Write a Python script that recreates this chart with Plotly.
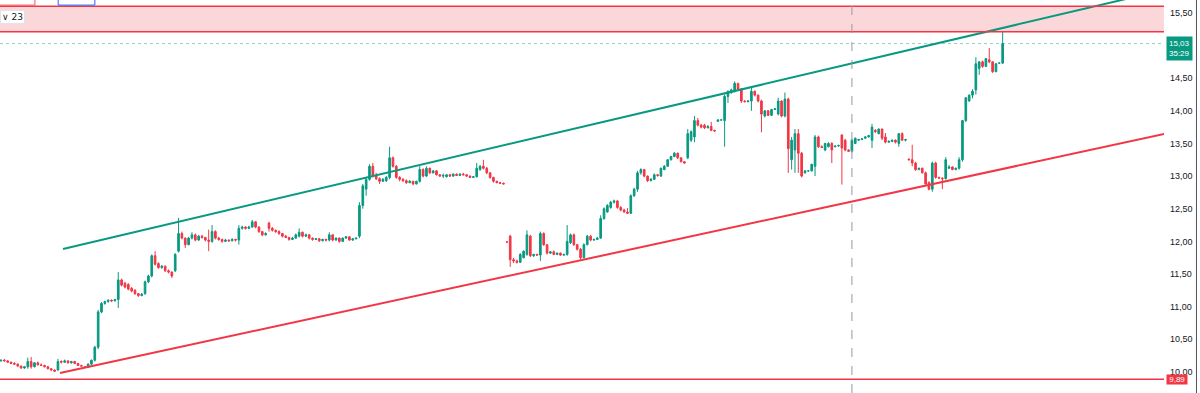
import plotly.graph_objects as go

# ---- candle data (index, OHLC) ----
opens = [10.17,10.18,10.17,10.15,10.13,10.12,10.09,10.06,10.08,10.16,10.08,10.14,10.11,10.10,10.08,10.05,10.03,10.03,10.16,10.15,
 10.17,10.14,10.16,10.13,10.10,10.08,10.07,10.12,10.18,10.38,10.92,11.05,11.08,11.10,11.09,11.11,11.41,11.36,11.34,11.28,
 11.25,11.20,11.17,11.20,11.38,11.47,11.78,11.66,11.60,11.62,11.55,11.53,11.55,11.85,12.12,12.05,11.95,12.05,12.10,12.02,
 12.08,12.06,12.02,12.00,12.15,12.05,12.03,12.00,12.02,12.01,12.03,12.02,12.20,12.22,12.20,12.22,12.30,12.22,12.15,12.10,
 12.28,12.20,12.17,12.15,12.12,12.08,12.06,12.03,12.05,12.08,12.14,12.08,12.10,12.05,12.03,12.04,12.01,12.03,12.02,12.10,
 12.02,12.05,12.00,12.05,12.07,12.02,12.04,12.08,12.55,12.80,12.95,13.15,13.00,12.96,12.92,12.93,12.98,13.28,13.15,12.98,
 12.95,12.93,12.90,12.92,12.88,12.92,13.10,13.00,13.12,13.05,13.08,13.02,13.00,12.99,13.02,13.00,13.03,13.01,13.03,13.02,
 13.00,12.98,12.99,13.10,13.15,13.12,13.05,12.98,12.92,12.90,12.89,11.99,12.08,11.72,11.70,11.68,11.75,11.80,12.08,11.78,
 11.80,11.79,12.12,11.95,11.82,11.84,11.80,11.82,11.79,11.80,11.98,12.10,11.95,11.88,11.75,11.95,12.08,12.02,12.03,12.05,
 12.35,12.45,12.52,12.60,12.62,12.52,12.48,12.45,12.43,12.70,12.80,13.05,13.10,13.00,12.93,12.95,13.02,13.00,13.10,13.15,
 13.25,13.30,13.35,13.28,13.22,13.28,13.55,13.60,13.85,13.78,13.78,13.74,13.76,13.70,13.84,13.86,13.85,14.22,14.28,14.30,
 14.42,14.33,14.15,14.14,14.15,14.30,14.24,14.15,13.92,14.00,13.93,14.02,13.95,14.15,13.92,14.18,13.25,13.40,13.65,13.35,
 13.05,13.08,13.08,13.15,13.60,13.45,13.40,13.45,13.50,13.45,13.46,13.63,13.55,13.40,13.38,13.50,13.55,13.56,13.58,13.60,
 13.55,13.70,13.65,13.72,13.60,13.52,13.53,13.55,13.50,13.65,13.55,13.26,13.25,13.20,13.10,13.12,13.05,12.90,12.80,13.20,
 12.98,12.97,12.96,13.12,13.14,13.10,13.12,13.25,13.85,14.15,14.24,14.32,14.65,14.75,14.68,14.78,14.75,14.60,14.73,14.73]
highs = [10.19,10.20,10.18,10.16,10.15,10.13,10.10,10.09,10.22,10.23,10.15,10.16,10.13,10.11,10.09,10.06,10.04,10.20,10.18,10.19,
 10.18,10.17,10.17,10.14,10.11,10.09,10.13,10.19,10.40,10.95,11.07,11.09,11.11,11.11,11.12,11.53,11.43,11.38,11.36,11.30,
 11.27,11.21,11.21,11.40,11.49,11.80,11.85,11.68,11.64,11.63,11.57,11.54,11.82,12.36,12.15,12.06,12.07,12.14,12.12,12.10,
 12.10,12.07,12.18,12.25,12.17,12.07,12.04,12.04,12.03,12.05,12.04,12.25,12.24,12.23,12.24,12.33,12.31,12.23,12.16,12.14,
 12.30,12.22,12.18,12.17,12.13,12.10,12.07,12.07,12.12,12.20,12.15,12.12,12.11,12.06,12.05,12.05,12.04,12.04,12.14,12.11,
 12.06,12.06,12.06,12.08,12.08,12.05,12.06,12.60,12.88,12.98,13.18,13.20,13.05,12.98,12.97,13.00,13.45,13.30,13.17,13.00,
 12.97,12.95,12.94,12.93,12.93,13.15,13.12,13.15,13.13,13.09,13.09,13.03,13.04,13.03,13.03,13.04,13.04,13.04,13.05,13.03,
 13.01,13.00,13.20,13.17,13.25,13.14,13.06,12.99,12.93,12.91,12.90,12.00,12.10,11.75,11.72,11.82,11.86,12.17,12.10,11.81,
 11.81,12.15,12.14,11.96,11.85,11.86,11.83,11.83,11.81,12.25,12.12,12.12,11.96,11.90,11.97,12.10,12.10,12.04,12.07,12.40,
 12.52,12.57,12.62,12.64,12.63,12.54,12.50,12.51,12.72,12.82,13.08,13.12,13.11,13.01,12.97,13.04,13.03,13.13,13.17,13.26,
 13.31,13.37,13.36,13.29,13.23,13.72,13.70,13.92,13.89,13.80,13.80,13.78,13.83,13.71,13.87,13.87,14.25,14.31,14.34,14.45,
 14.43,14.35,14.16,14.16,14.35,14.31,14.25,14.17,14.01,14.01,14.03,14.04,14.20,14.16,14.28,14.20,13.60,13.72,13.72,13.37,
 13.09,13.09,13.19,13.63,13.62,13.47,13.51,13.52,13.52,13.47,13.48,13.64,13.57,13.41,13.57,13.59,13.57,13.58,13.61,13.63,
 13.80,13.72,13.73,13.73,13.66,13.55,13.56,13.56,13.66,13.67,13.57,13.27,13.48,13.22,13.13,13.13,13.07,12.92,13.22,13.22,
 12.99,12.98,13.29,13.17,13.15,13.13,13.29,13.86,14.21,14.25,14.33,14.82,14.76,14.77,14.80,14.96,14.76,14.73,14.74,15.21]
lows = [10.16,10.16,10.14,10.12,10.11,10.08,10.05,10.05,10.05,10.05,10.07,10.10,10.09,10.07,10.04,10.02,10.00,10.02,10.13,10.14,
 10.13,10.13,10.12,10.09,10.08,10.06,10.06,10.11,10.16,10.35,10.90,11.03,11.06,11.07,11.08,10.98,11.31,11.28,11.25,11.22,
 11.18,11.15,11.16,11.18,11.36,11.45,11.63,11.58,11.58,11.53,11.51,11.44,11.53,11.83,12.03,11.90,11.94,12.03,12.00,12.01,
 12.04,12.00,11.85,11.98,12.03,12.01,11.98,11.99,11.99,12.00,12.00,11.95,12.18,12.18,12.19,12.21,12.20,12.13,12.08,12.09,
 12.15,12.15,12.13,12.10,12.06,12.05,12.01,12.02,12.04,12.06,12.06,12.07,12.03,12.01,12.02,11.99,12.00,12.00,12.00,12.00,
 12.01,11.98,11.99,12.04,12.01,12.01,12.03,12.05,12.50,12.70,12.93,12.98,12.94,12.88,12.91,12.91,12.95,13.13,12.96,12.92,
 12.91,12.88,12.89,12.86,12.87,12.90,12.98,12.99,13.03,13.04,13.01,12.99,12.97,12.98,12.99,12.99,13.00,13.00,13.01,12.99,
 12.97,12.97,12.98,13.08,13.10,13.03,12.96,12.90,12.89,12.88,12.87,11.98,11.61,11.67,11.66,11.67,11.74,11.78,11.76,11.76,
 11.78,11.70,11.93,11.80,11.81,11.79,11.79,11.78,11.78,11.78,11.96,11.93,11.86,11.72,11.74,11.94,12.00,12.01,12.02,12.04,
 12.33,12.44,12.50,12.58,12.50,12.46,12.44,12.42,12.42,12.68,12.76,13.02,12.98,12.91,12.92,12.94,12.99,12.99,13.09,13.14,
 13.24,13.29,13.26,13.21,13.19,13.26,13.52,13.52,13.76,13.73,13.72,13.73,13.69,13.68,13.83,13.85,13.45,14.12,14.26,14.28,
 14.32,14.12,14.13,14.13,14.00,14.22,14.13,13.67,13.90,13.92,13.92,14.01,13.93,13.90,13.90,13.05,13.10,13.05,13.05,12.98,
 13.04,13.07,13.07,13.00,13.43,13.43,13.38,13.44,13.20,13.44,13.45,12.87,13.38,13.37,13.36,13.49,13.54,13.55,13.57,13.59,
 13.43,13.66,13.64,13.55,13.50,13.51,13.52,13.50,13.45,13.54,13.53,13.24,13.15,13.08,13.09,13.04,12.87,12.78,12.76,12.96,
 12.96,12.80,12.95,13.11,13.09,13.09,13.10,13.22,13.83,14.14,14.19,14.25,14.55,14.66,14.67,14.73,14.58,14.59,14.72,14.72]
closes = [10.18,10.17,10.15,10.13,10.12,10.09,10.06,10.08,10.16,10.08,10.14,10.11,10.10,10.08,10.05,10.03,10.01,10.16,10.15,10.17,
 10.14,10.16,10.13,10.10,10.09,10.07,10.12,10.18,10.38,10.92,11.05,11.08,11.10,11.09,11.11,11.41,11.33,11.30,11.27,11.24,
 11.20,11.17,11.19,11.38,11.47,11.78,11.65,11.60,11.62,11.55,11.53,11.47,11.80,12.12,12.05,11.95,12.05,12.10,12.02,12.08,
 12.06,12.02,12.00,12.15,12.05,12.03,12.00,12.02,12.01,12.03,12.02,12.20,12.22,12.20,12.22,12.30,12.22,12.15,12.10,12.12,
 12.20,12.17,12.15,12.12,12.08,12.06,12.03,12.05,12.10,12.14,12.08,12.10,12.05,12.03,12.04,12.01,12.03,12.02,12.10,12.02,
 12.05,12.00,12.05,12.07,12.02,12.04,12.05,12.55,12.85,12.95,13.15,13.00,12.96,12.92,12.95,12.98,13.28,13.15,12.98,12.95,
 12.93,12.90,12.92,12.88,12.92,13.10,13.00,13.12,13.05,13.08,13.02,13.00,13.01,13.02,13.00,13.03,13.01,13.03,13.02,13.00,
 12.98,12.99,13.12,13.15,13.12,13.05,12.98,12.92,12.90,12.89,12.88,11.99,11.72,11.70,11.68,11.80,11.85,12.10,11.78,11.80,
 11.79,12.12,11.95,11.82,11.84,11.80,11.82,11.79,11.80,12.00,12.10,11.95,11.88,11.75,11.95,12.08,12.02,12.03,12.05,12.35,
 12.50,12.55,12.60,12.62,12.52,12.48,12.45,12.43,12.70,12.80,13.05,13.10,13.00,12.93,12.95,13.02,13.01,13.12,13.15,13.25,
 13.30,13.35,13.28,13.22,13.20,13.65,13.68,13.85,13.78,13.75,13.74,13.76,13.70,13.69,13.86,13.86,14.22,14.30,14.32,14.42,
 14.33,14.15,14.14,14.15,14.30,14.24,14.15,13.95,14.00,13.93,14.02,14.03,14.15,13.92,14.18,13.42,13.55,13.65,13.35,13.00,
 13.08,13.08,13.18,13.60,13.45,13.44,13.50,13.50,13.40,13.46,13.47,13.43,13.40,13.38,13.55,13.58,13.56,13.57,13.60,13.62,
 13.75,13.68,13.72,13.58,13.52,13.53,13.55,13.52,13.65,13.55,13.56,13.25,13.20,13.10,13.12,13.05,12.88,12.80,13.20,12.98,
 12.97,12.96,13.25,13.14,13.10,13.12,13.25,13.85,14.20,14.24,14.30,14.72,14.75,14.68,14.80,14.75,14.60,14.72,14.73,15.03]
idx = list(range(len(closes)))

# drawn objects (index, price)
green_trend_x = [18.5, 347.2]
green_trend_y = [11.884, 15.85]
red_trend_x = [17.6, 347.2]
red_trend_y = [9.985, 13.645]
zone_low, zone_high = 15.21, 15.60
support_level = 9.89
last_price = 15.03
vline_idx = 254.0
y_ticks = [10.0, 10.5, 11.0, 11.5, 12.0, 12.5, 13.0, 13.5, 14.0, 14.5, 15.5]

GREEN = "#089981"
RED = "#f23645"
X_RANGE = [-0.2985, 347.16]
Y_RANGE = [9.678, 15.697]

fig = go.Figure()

fig.add_trace(go.Candlestick(
    x=idx, open=opens, high=highs, low=lows, close=closes,
    increasing=dict(line=dict(color=GREEN, width=1), fillcolor=GREEN),
    decreasing=dict(line=dict(color=RED, width=1), fillcolor=RED),
    whiskerwidth=0, showlegend=False, hoverinfo="skip"))

fig.add_trace(go.Scatter(x=green_trend_x, y=green_trend_y, mode="lines",
                         line=dict(color=GREEN, width=2), showlegend=False, hoverinfo="skip"))
fig.add_trace(go.Scatter(x=red_trend_x, y=red_trend_y, mode="lines",
                         line=dict(color=RED, width=2), showlegend=False, hoverinfo="skip"))

shapes = [
    dict(type="rect", xref="paper", yref="y", x0=0, x1=1, y0=zone_low, y1=zone_high,
         fillcolor="rgba(242,54,69,0.2)", line=dict(width=0), layer="below"),
    dict(type="line", xref="paper", yref="y", x0=0, x1=1, y0=zone_high, y1=zone_high,
         line=dict(color=RED, width=1.5)),
    dict(type="line", xref="paper", yref="y", x0=0, x1=1, y0=zone_low, y1=zone_low,
         line=dict(color=RED, width=1.5)),
    dict(type="line", xref="paper", yref="y", x0=0, x1=1, y0=support_level, y1=support_level,
         line=dict(color=RED, width=1.5)),
    dict(type="line", xref="paper", yref="y", x0=0, x1=1, y0=last_price, y1=last_price,
         line=dict(color="rgba(8,153,129,0.45)", width=1, dash="dot")),
    dict(type="line", xref="x", yref="paper", x0=vline_idx, x1=vline_idx, y0=0, y1=1,
         line=dict(color="#9598a1", width=1, dash="dash")),
    dict(type="line", xref="paper", yref="paper", x0=1.0279, x1=1.0279, y0=0, y1=1,
         line=dict(color="#50535e", width=1)),
    dict(type="rect", xref="paper", yref="paper", x0=-0.002, x1=0.030, y0=0.987, y1=1.05,
         line=dict(color="#f7525f", width=1), fillcolor="white"),
    dict(type="rect", xref="paper", yref="paper", x0=0.050, x1=0.0815, y0=0.987, y1=1.05,
         line=dict(color="#2962ff", width=1), fillcolor="white"),
]

annotations = [
    dict(xref="paper", yref="y", x=1.0015, y=14.96, xanchor="left", yanchor="middle",
         text="15,03<br>35:29", showarrow=False, bgcolor=GREEN, borderpad=2,
         font=dict(color="white", size=8, family="Liberation Sans")),
    dict(xref="paper", yref="y", x=1.0015, y=9.885, xanchor="left", yanchor="middle",
         text=" 9,89 ", showarrow=False, bgcolor=RED, borderpad=0,
         font=dict(color="white", size=8, family="Liberation Sans")),
    dict(xref="paper", yref="paper", x=0.0, y=0.957, xanchor="left", yanchor="middle",
         text="∨ 23", showarrow=False, bgcolor="white", bordercolor="#e0e3eb", borderwidth=1,
         borderpad=1, font=dict(color="#131722", size=9, family="DejaVu Sans")),
]

fig.update_layout(
    width=1200, height=393,
    margin=dict(l=0, r=36, t=0, b=0),
    paper_bgcolor="white", plot_bgcolor="white",
    separators=",.",
    shapes=shapes, annotations=annotations,
    xaxis=dict(range=X_RANGE, visible=False, rangeslider=dict(visible=False), fixedrange=True),
    yaxis=dict(range=Y_RANGE, side="right", showgrid=False, zeroline=False,
               tickvals=y_ticks, tickformat=".2f", ticks="", ticklabelstandoff=5,
               tickfont=dict(size=9, color="#131722", family="Liberation Sans"),
               showline=False),
    showlegend=False,
)

fig.write_html("out.html", config={"displayModeBar": False},
               post_script="document.body.style.margin='0';")
